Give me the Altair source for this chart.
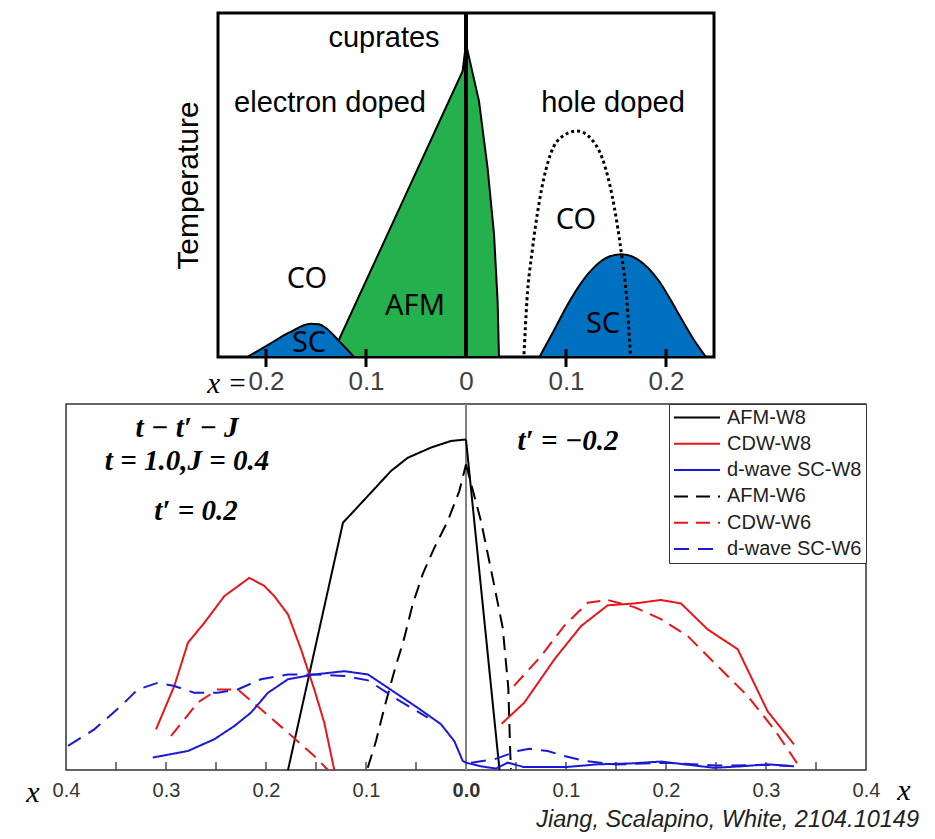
import altair as alt
import pandas as pd

# ---------------- top panel: schematic cuprate phase diagram ----------------
# signed doping: electron-doped side negative, hole-doped side positive; T in 0..1
afm_x = [-0.135, -0.0034, 0.0, 0.013, 0.0216, 0.028, 0.0316, 0.033]
afm_t = [0.0, 0.831, 0.910, 0.744, 0.549, 0.358, 0.163, 0.0]

sce_x = [-0.2187, -0.197, -0.177, -0.1553, -0.147, -0.1403, -0.127, -0.112]
sce_t = [0.0, 0.037, 0.0706, 0.0968, 0.095, 0.085, 0.0465, 0.0]

sch_x = [0.0734, 0.0859, 0.1037, 0.1216, 0.1394, 0.1555, 0.1716, 0.193, 0.2109, 0.2287, 0.240]
sch_t = [0.0, 0.066, 0.163, 0.240, 0.287, 0.299, 0.284, 0.221, 0.134, 0.0465, 0.0]

co_x = [0.058, 0.0609, 0.0662, 0.0734, 0.0823, 0.093, 0.1109, 0.127, 0.1394, 0.1484, 0.1555, 0.1609, 0.1644]
co_t = [0.008, 0.163, 0.308, 0.453, 0.570, 0.633, 0.657, 0.628, 0.550, 0.434, 0.299, 0.163, 0.008]

top_axis_vals = [-0.2, -0.1, 0.0, 0.1, 0.2]
top_tick_vals = [-0.2, -0.1, 0.1, 0.2]

region_text = ["cuprates", "electron doped", "hole doped"]
region_x = [-0.082, -0.136, 0.147]
region_t = [0.927, 0.738, 0.738]

phase_text = ["CO", "CO", "AFM", "SC", "SC"]
phase_x = [-0.159, 0.110, -0.051, -0.157, 0.137]
phase_t = [0.227, 0.397, 0.148, 0.040, 0.097]

# ---------------- bottom panel: DMRG results ----------------
series_names = ["AFM-W8", "CDW-W8", "d-wave SC-W8", "AFM-W6", "CDW-W6", "d-wave SC-W6"]
series_colors = ["#000000", "#e8151b", "#1a1ad6", "#000000", "#e8151b", "#1a1ad6"]
series_dashes = [[1, 0], [1, 0], [1, 0], [14, 8], [14, 8], [15, 9]]

afm8_l_x = [-0.178, -0.123, -0.115, -0.095, -0.075, -0.0583, -0.035, -0.015, 0.0]
afm8_l_y = [0.0, 0.676, 0.699, 0.758, 0.817, 0.853, 0.881, 0.899, 0.903]
afm8_r_x = [0.0, 0.0335]
afm8_r_y = [0.903, 0.0]

afm6_l_x = [-0.0983, -0.09, -0.0817, -0.0717, -0.0617, -0.0533, -0.0433, -0.0317, -0.0183, -0.0067, 0.0]
afm6_l_y = [0.006, 0.079, 0.17, 0.27, 0.361, 0.453, 0.535, 0.607, 0.68, 0.762, 0.835]
afm6_r_x = [0.0, 0.015, 0.0267, 0.0367, 0.0423, 0.0443, 0.045]
afm6_r_y = [0.835, 0.68, 0.525, 0.389, 0.225, 0.043, 0.003]

cdw8_l_x = [-0.31, -0.2917, -0.278, -0.2617, -0.2417, -0.2167, -0.2017, -0.1917, -0.178, -0.165, -0.1517, -0.1417, -0.1317]
cdw8_l_y = [0.111, 0.2295, 0.348, 0.402, 0.475, 0.525, 0.503, 0.475, 0.425, 0.33, 0.22, 0.129, 0.0]
cdw8_r_x = [0.0357, 0.0583, 0.0883, 0.115, 0.1417, 0.1683, 0.195, 0.215, 0.2417, 0.2717, 0.3017, 0.328]
cdw8_r_y = [0.1265, 0.184, 0.302, 0.393, 0.45, 0.455, 0.4645, 0.455, 0.384, 0.33, 0.16, 0.07]

cdw6_l_x = [-0.295, -0.2683, -0.2483, -0.2283, -0.205, -0.178, -0.1517, -0.138]
cdw6_l_y = [0.093, 0.184, 0.22, 0.22, 0.166, 0.102, 0.038, 0.0]
cdw6_r_x = [0.048, 0.075, 0.098, 0.1217, 0.1417, 0.1683, 0.195, 0.2217, 0.2483, 0.2817, 0.3083, 0.3317]
cdw6_r_y = [0.23, 0.311, 0.393, 0.457, 0.4645, 0.445, 0.412, 0.366, 0.293, 0.202, 0.111, 0.016]

sc8_l_x = [-0.3133, -0.278, -0.2517, -0.2317, -0.215, -0.198, -0.178, -0.1517, -0.1217, -0.098,
           -0.0783, -0.0483, -0.025, -0.0117, -0.0033, 0.0]
sc8_l_y = [0.034, 0.052, 0.084, 0.12, 0.157, 0.211, 0.248, 0.261, 0.27, 0.261,
           0.225, 0.17, 0.125, 0.079, 0.025, 0.02]
sc8_r_x = [0.0, 0.015, 0.03, 0.0417, 0.058, 0.1, 0.1317, 0.165, 0.195, 0.22, 0.248, 0.275, 0.3017, 0.325]
sc8_r_y = [0.02, 0.01, 0.004, 0.02, 0.008, 0.008, 0.0155, 0.018, 0.023, 0.015, 0.006, 0.01, 0.0155, 0.011]

sc6_l_x = [-0.398, -0.3717, -0.345, -0.3283, -0.308, -0.2917, -0.2717, -0.2483, -0.2283, -0.205,
           -0.178, -0.1517, -0.1217, -0.098, -0.0717, -0.0383]
sc6_l_y = [0.066, 0.111, 0.175, 0.22, 0.2385, 0.2295, 0.211, 0.211, 0.22, 0.248,
           0.261, 0.261, 0.257, 0.245, 0.198, 0.143]
sc6_r_x = [0.005, 0.028, 0.0517, 0.0633, 0.0817, 0.0983, 0.118, 0.15, 0.2, 0.25, 0.3, 0.328]
sc6_r_y = [0.02, 0.029, 0.052, 0.058, 0.052, 0.038, 0.025, 0.015, 0.02, 0.012, 0.014, 0.01]

bottom_axis_vals = [-0.4, -0.3, -0.2, -0.1, 0.0, 0.1, 0.2, 0.3, 0.4]
bottom_tick_vals = [-0.35, -0.3, -0.25, -0.2, -0.15, -0.1, -0.05, 0.05, 0.1, 0.15, 0.2, 0.25, 0.3, 0.35]

param_text = ["t − t′ − J", "t = 1.0,J = 0.4", "t′ = 0.2", "t′ = −0.2"]
param_x = [-0.279, -0.279, -0.27, 0.102]
param_y = [0.935, 0.844, 0.708, 0.899]

xlabel_text = ["x", "x"]
xlabel_x = [-0.433, 0.438]
xlabel_y = [-0.063, -0.057]

credit_text = ["Jiang, Scalapino, White, 2104.10149"]
credit_x = [0.453]
credit_y = [-0.137]

# ---------------- build tables ----------------
def frame(xs, ys):
    return pd.DataFrame({"x": xs, "t": ys})

afm_df = frame(afm_x, afm_t)
sce_df = frame(sce_x, sce_t)
sch_df = frame(sch_x, sch_t)
co_df = frame(co_x, co_t)
top_ticks_df = pd.DataFrame({"x": top_tick_vals})
region_df = pd.DataFrame({"x": region_x, "t": region_t, "label": region_text})
phase_df = pd.DataFrame({"x": phase_x, "t": phase_t, "label": phase_text})
xeq_df = pd.DataFrame({"x": [-0.219], "t": [-0.078], "label": ["x ="]})

segments = [
    ("AFM-W8", "L", afm8_l_x, afm8_l_y), ("AFM-W8", "R", afm8_r_x, afm8_r_y),
    ("AFM-W6", "L", afm6_l_x, afm6_l_y), ("AFM-W6", "R", afm6_r_x, afm6_r_y),
    ("CDW-W8", "L", cdw8_l_x, cdw8_l_y), ("CDW-W8", "R", cdw8_r_x, cdw8_r_y),
    ("CDW-W6", "L", cdw6_l_x, cdw6_l_y), ("CDW-W6", "R", cdw6_r_x, cdw6_r_y),
    ("d-wave SC-W8", "L", sc8_l_x, sc8_l_y), ("d-wave SC-W8", "R", sc8_r_x, sc8_r_y),
    ("d-wave SC-W6", "L", sc6_l_x, sc6_l_y), ("d-wave SC-W6", "R", sc6_r_x, sc6_r_y),
]
rows = []
for name, side, xs, ys in segments:
    for xv, yv in zip(xs, ys):
        rows.append({"series": name, "part": name + side, "x": xv, "y": yv})
lines_df = pd.DataFrame(rows)

bticks_df = pd.DataFrame({"x": bottom_tick_vals})
param_df = pd.DataFrame({"x": param_x, "y": param_y, "label": param_text})
xlab_df = pd.DataFrame({"x": xlabel_x, "y": xlabel_y, "label": xlabel_text})
credit_df = pd.DataFrame({"x": credit_x, "y": credit_y, "label": credit_text})

# ---------------- top panel ----------------
xs_top = alt.Scale(domain=[-0.248, 0.248], nice=False, zero=False)
ys_top = alt.Scale(domain=[0, 1], nice=False)
x_top_axis = alt.Axis(values=top_axis_vals,
                      labelExpr="datum.value == 0 ? '0' : format(abs(datum.value), '.1f')",
                      labelFont="Liberation Sans", labelFontSize=26, labelColor="#404040",
                      labelPadding=11, ticks=False, domain=False, grid=False,
                      labelFlush=False, title=None)
y_top_axis = alt.Axis(labels=False, ticks=False, domain=False, grid=False,
                      title="Temperature", titleFont="Liberation Sans", titleFontSize=30,
                      titleFontWeight="normal", titleColor="black", titlePadding=15)
XT = alt.X("x:Q", scale=xs_top, axis=x_top_axis)
YT = alt.Y("t:Q", scale=ys_top, axis=y_top_axis)

green = alt.Chart(afm_df).mark_area(fill="#24B14D", stroke="black", strokeWidth=2,
                                    opacity=1).encode(x=XT, y=YT)
dome_e = alt.Chart(sce_df).mark_area(fill="#0070C0", stroke="black", strokeWidth=2, opacity=1,
                                     interpolate="monotone").encode(x=XT, y=YT)
dome_h = alt.Chart(sch_df).mark_area(fill="#0070C0", stroke="black", strokeWidth=2, opacity=1,
                                     interpolate="monotone").encode(x=XT, y=YT)
co_line = alt.Chart(co_df).mark_line(color="black", strokeWidth=3, strokeDash=[3, 3],
                                     interpolate="monotone").encode(x=XT, y=YT)
zero_top = alt.Chart(afm_df).mark_rule(color="black", strokeWidth=3).encode(x=alt.datum(0))
ticks_top = alt.Chart(top_ticks_df).mark_rule(color="black", strokeWidth=3).encode(
    x=XT, y=alt.value(336), y2=alt.value(354))
region_lbl = alt.Chart(region_df).mark_text(font="Liberation Sans", fontSize=29, color="black",
                                            baseline="middle").encode(x=XT, y=YT, text="label:N")
phase_lbl = alt.Chart(phase_df).mark_text(font="Noto Sans", fontSize=29, color="black",
                                          baseline="middle").encode(x=XT, y=YT, text="label:N")
xeq_lbl = alt.Chart(xeq_df).mark_text(font="Liberation Serif", fontStyle="italic", fontSize=29,
                                      color="black", align="right",
                                      baseline="middle").encode(x=XT, y=YT, text="label:N")

top = alt.layer(green, dome_e, dome_h, co_line, zero_top, ticks_top,
                region_lbl, phase_lbl, xeq_lbl).properties(
    width=496, height=344,
    view=alt.ViewBackground(stroke="black", strokeWidth=3))

# ---------------- bottom panel ----------------
xs_bot = alt.Scale(domain=[-0.4, 0.4], nice=False, zero=False)
ys_bot = alt.Scale(domain=[0, 1], nice=False)
x_bot_axis = alt.Axis(values=bottom_axis_vals, labelExpr="format(abs(datum.value), '.1f')",
                      labelFont="Liberation Sans", labelFontSize=20, labelColor="#333333",
                      labelFontWeight={"condition": {"test": "datum.value == 0", "value": "bold"},
                                       "value": "normal"},
                      labelPadding=10, ticks=False, domain=False, grid=False,
                      labelFlush=False, title=None)
XB = alt.X("x:Q", scale=xs_bot, axis=x_bot_axis)
YB = alt.Y("y:Q", scale=ys_bot, axis=None)

leg = alt.Legend(title=None, orient="top-right", offset=0, symbolType="stroke",
                 symbolSize=2116, symbolStrokeWidth=2, clipHeight=19,
                 labelFont="Liberation Sans", labelFontSize=20, labelColor="#222222",
                 labelOffset=6, rowPadding=5.3, padding=4, labelLimit=300,
                 strokeColor="#333333", fillColor="white")

lines = alt.Chart(lines_df).mark_line(strokeWidth=2).encode(
    x=XB, y=YB,
    color=alt.Color("series:N", scale=alt.Scale(domain=series_names, range=series_colors),
                    legend=leg, sort=series_names),
    strokeDash=alt.StrokeDash("series:N", scale=alt.Scale(domain=series_names, range=series_dashes),
                              legend=leg, sort=series_names),
    detail="part:N",
)
zero_bot = alt.Chart(bticks_df).mark_rule(color="#808080", strokeWidth=1).encode(x=alt.datum(0))
ticks_bot = alt.Chart(bticks_df).mark_rule(color="#333333", strokeWidth=1.3).encode(
    x=XB, y=alt.value(366), y2=alt.value(358))
params = alt.Chart(param_df).mark_text(font="Liberation Serif", fontStyle="italic", fontWeight="bold",
                                       fontSize=29, color="black", baseline="middle").encode(
    x=XB, y=YB, text="label:N")
xlabs = alt.Chart(xlab_df).mark_text(font="Liberation Serif", fontStyle="italic", fontSize=30,
                                     color="black", baseline="middle").encode(x=XB, y=YB, text="label:N")
credit = alt.Chart(credit_df).mark_text(font="Liberation Sans", fontStyle="italic", fontSize=23.5,
                                        color="#222222", align="right", baseline="middle").encode(
    x=XB, y=YB, text="label:N")

bottom = alt.layer(zero_bot, ticks_bot, lines, params, xlabs, credit).properties(
    width=800, height=366,
    view=alt.ViewBackground(stroke="#333333", strokeWidth=1.5))

chart = alt.vconcat(top, bottom, spacing=47, center=True, bounds="flush").resolve_scale(
    color="independent", strokeDash="independent"
).resolve_legend(
    color="independent", strokeDash="independent"
).properties(
    padding={"left": 17, "top": 2, "right": 5, "bottom": 0}
).configure(font="Liberation Sans")

chart.save("out.html", embed_options={"renderer": "svg", "actions": False})
